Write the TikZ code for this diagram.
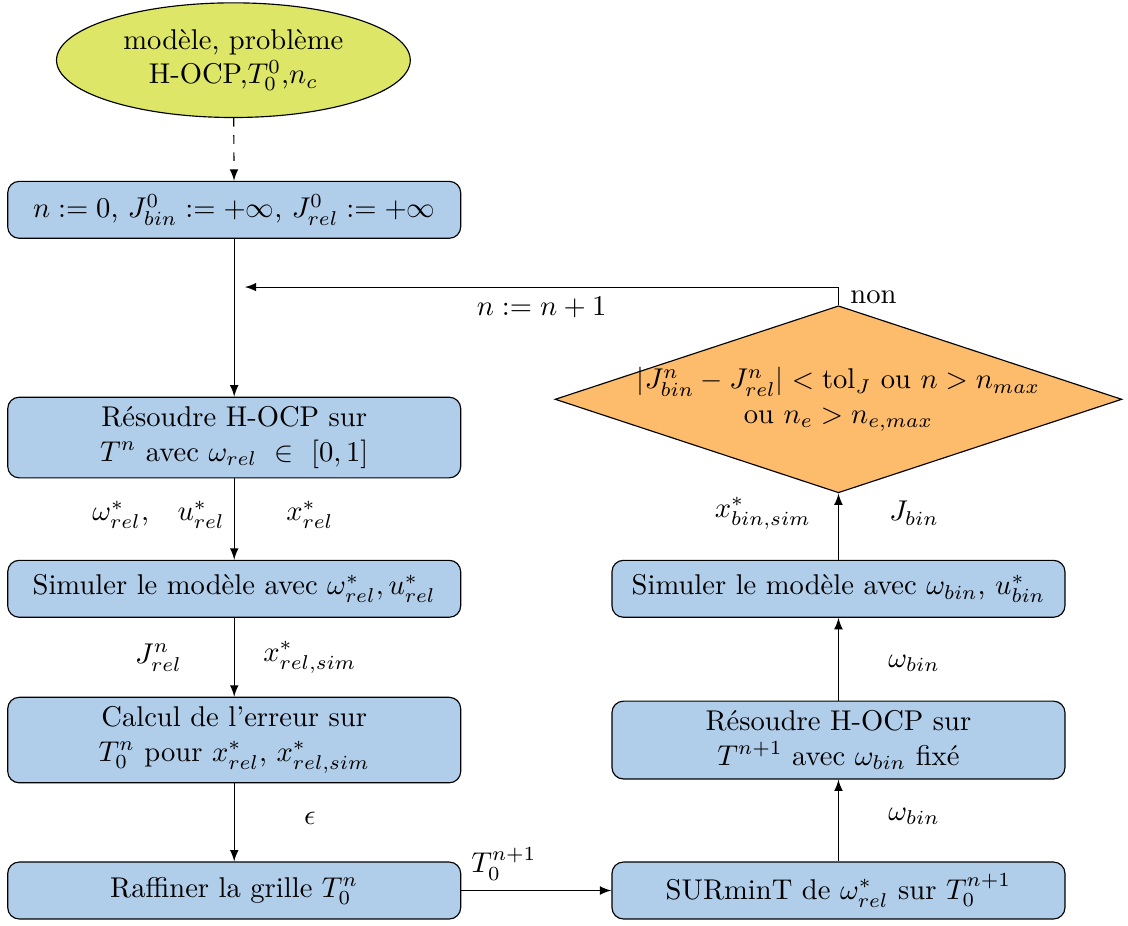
\documentclass[tikz,border=0pt]{standalone}
\usepackage{amsmath,amssymb}
\usepackage[utf8]{inputenc}
\usepackage{tikz}
\usetikzlibrary{arrows.meta,positioning,shapes.geometric}

\definecolor{boxblue}{RGB}{176,205,234}
\definecolor{startgreen}{RGB}{221,230,102}
\definecolor{testorange}{RGB}{253,187,108}

\begin{document}
\begin{tikzpicture}[>=latex,scale=1]
\tikzstyle{blk}=[draw, rectangle, rounded corners, align=center,
minimum height=0.7cm, minimum width=5.57cm, fill=boxblue]
\tikzstyle{start}=[draw, ellipse, align=center, inner sep=0pt,
minimum width=4.35cm, minimum height=1.41cm, fill=startgreen]
\tikzstyle{test}=[draw, diamond, aspect=3.03, align=center, inner xsep=-2.4pt, inner ysep=-1pt,
minimum width=6.97cm, minimum height=2.30cm, fill=testorange]
\tikzstyle{lab}=[inner sep=1pt]

\useasboundingbox (0,0) rectangle (13.87,-11.38);

% initialisation
\node[start] (init) at (2.87,-0.74) {mod\`ele, probl\`eme\\ H-OCP,$T_0^0$,$n_c$};
\node[blk] (zero) at (2.88,-2.58) {$n:=0$, $J^0_{bin}:=+\infty$, $J^0_{rel}:=+\infty$};

% relaxed problem
\node[blk] (solrel) at (2.88,-5.38) {R\'esoudre H-OCP sur\\ $T^n$ avec $\omega_{rel}\ \in\ [0,1]$};
\node[blk] (simrel) at (2.88,-7.24) {Simuler le mod\`ele avec $\omega^*_{rel}, u^*_{rel}$};
\node[blk] (err) at (2.88,-9.10) {Calcul de l'erreur sur\\ $T_0^n$ pour $x^*_{rel}$, $x^*_{rel,sim}$};
\node[blk] (refine) at (2.88,-10.95) {Raffiner la grille $T_0^n$};

% binary problem
\node[blk] (surmint) at (10.31,-10.95) {SURminT de $\omega^*_{rel}$ sur $T_0^{n+1}$};
\node[blk] (solbin) at (10.31,-9.10) {R\'esoudre H-OCP sur\\ $T^{n+1}$ avec $\omega_{bin}$ fix\'e};
\node[blk] (simbin) at (10.31,-7.24) {Simuler le mod\`ele avec $\omega_{bin}$, $u^*_{bin}$};
\node[test] (stop) at (10.31,-4.91) {$|J^n_{bin}-J^n_{rel}|<\mathrm{tol}_J$ ou $n>n_{max}$\\ ou $n_e>n_{e,max}$};

\coordinate (back) at (3.01,-3.53);

\draw[->,dashed] (init) -- (zero);
\draw[->] (zero) -- (solrel);
\draw[->] (solrel) -- node[lab,pos=0.45,xshift=-0.93cm] {$\omega^*_{rel}$,\quad $u^*_{rel}$}
  node[lab,pos=0.45,xshift=0.93cm] {$x^*_{rel}$} (simrel);
\draw[->] (simrel) -- node[lab,xshift=-0.93cm] {$J^n_{rel}$}
  node[lab,xshift=0.93cm] {$x^*_{rel,sim}$} (err);
\draw[->] (err) -- node[lab,pos=0.45,xshift=0.93cm] {$\epsilon$} (refine);
\draw[->] (refine) -- node[pos=0, above right] {$T_0^{n+1}$} (surmint);
\draw[->] (surmint) -- node[lab,pos=0.55,xshift=0.93cm] {$\omega_{bin}$} (solbin);
\draw[->] (solbin) -- node[lab,pos=0.45,xshift=0.93cm] {$\omega_{bin}$} (simbin);
\draw[->] (simbin) -- node[lab,pos=0.7,xshift=-0.93cm] {$x^*_{bin,sim}$}
  node[lab,pos=0.7,xshift=0.93cm] {$J_{bin}$} (stop);

% loop back
\draw[->] (stop.north) |- node[pos=0.5, anchor=north west, inner xsep=4pt, inner ysep=1pt] {non}
  node[pos=0.75, below] {$n:=n+1$} (back);

\end{tikzpicture}
\end{document}
